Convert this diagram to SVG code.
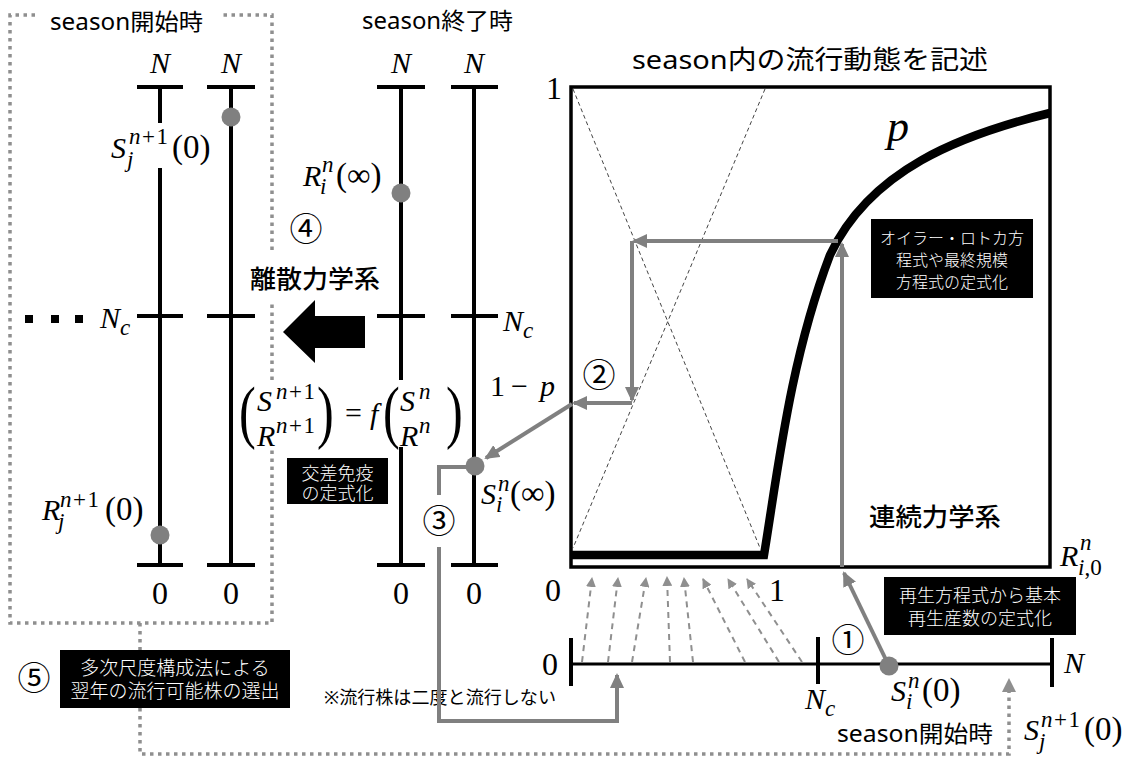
<svg xmlns="http://www.w3.org/2000/svg" width="1137" height="758" viewBox="0 0 1137 758">
<defs>
<style>
.jp{font-family:"Noto Sans","Noto Sans CJK JP",sans-serif;fill:#000}
.hb{font-weight:500}
.wt{font-family:"Noto Sans CJK JP",sans-serif;fill:#fff;text-anchor:middle;font-weight:300}
.cn{font-family:"Noto Sans CJK JP",sans-serif;font-size:33px;text-anchor:middle;fill:#000}
.m{font-family:"Liberation Serif",serif;font-size:30px;fill:#000}
.mc{text-anchor:middle}
.i{font-style:italic}
.s{font-size:23px}
.sp{font-size:23px;letter-spacing:1.5px}
.pz{font-size:33px}
.big{font-size:32px}
.ax{stroke:#000;stroke-width:4;fill:none}
.dot{fill:#808080}
.ga{stroke:#808080;stroke-width:4;fill:none;marker-end:url(#ah)}
.gl{stroke:#808080;stroke-width:4;fill:none}
.dt{stroke:#8f8f8f;stroke-width:3.5;stroke-dasharray:3.5 4.5;fill:none}
.dsh{stroke:#8f8f8f;stroke-width:2;stroke-dasharray:6 5;fill:none;marker-end:url(#ahs)}
.xd{stroke:#444;stroke-width:1;stroke-dasharray:4 3;fill:none}
.bb{fill:#000}
</style>
<marker id="ah" markerUnits="userSpaceOnUse" markerWidth="16" markerHeight="14" refX="13" refY="7" orient="auto"><path d="M0,0 L15,7 L0,14 z" fill="#808080"/></marker>
<marker id="ahs" markerUnits="userSpaceOnUse" markerWidth="11" markerHeight="10" refX="9" refY="5" orient="auto"><path d="M0,0 L10,5 L0,10 z" fill="#8f8f8f"/></marker>
<marker id="ahd" markerUnits="userSpaceOnUse" markerWidth="15" markerHeight="14" refX="1" refY="7" orient="auto"><path d="M0,0 L14,7 L0,14 z" fill="#8f8f8f"/></marker>
</defs>
<rect width="1137" height="758" fill="#fff"/>

<!-- Left panel: season start -->
<g id="left-box">
<path class="dt" d="M35,15 H10 V623 H272 V447 M272,380 V303 M272,250 V15 H220"/>
<text class="jp" x="50" y="30" font-size="23" textLength="153" lengthAdjust="spacingAndGlyphs">season開始時</text>
<rect x="25" y="315" width="8" height="8"/>
<rect x="51" y="315" width="8" height="8"/>
<rect x="75" y="315" width="8" height="8"/>
<text class="m"><tspan x="100" y="328" class="i">N</tspan><tspan x="120" y="335" class="i s">c</tspan></text>
</g>

<g id="left-col-S">
<text class="m mc i" x="160" y="73">N</text>
<path class="ax" d="M137,87 H183 M160,87 V123 M160,168 V565 M137,316 H183 M137,565 H183"/>
<text class="m"><tspan x="111" y="158" class="i">S</tspan><tspan x="129" y="144" class="sp"><tspan class="i">n</tspan>+1</tspan><tspan x="127" y="167" class="i s">j</tspan><tspan x="172" y="158" class="pz">(0)</tspan></text>
<text class="m"><tspan x="42" y="520" class="i">R</tspan><tspan x="60" y="507" class="sp"><tspan class="i">n</tspan>+1</tspan><tspan x="58" y="529" class="i s">j</tspan><tspan x="105" y="520" class="pz">(0)</tspan></text>
<circle class="dot" cx="160" cy="535" r="9.5"/>
<text class="m mc big" x="160" y="604">0</text>
</g>

<g id="left-col-R">
<text class="m mc i" x="231" y="73">N</text>
<path class="ax" d="M207,87 H255 M231,87 V565 M207,316 H255 M207,565 H255"/>
<circle class="dot" cx="231" cy="117" r="9.5"/>
<text class="m mc big" x="231" y="604">0</text>
</g>

<!-- Middle panel: season end -->
<g id="mid-title">
<text class="jp" x="362" y="29" font-size="23" textLength="151" lengthAdjust="spacingAndGlyphs">season終了時</text>
</g>

<g id="mid-col-R">
<text class="m mc i" x="401" y="73">N</text>
<path class="ax" d="M377,87 H425 M401,87 V380 M401,447 V565 M377,316 H425 M377,565 H425"/>
<text class="m"><tspan x="303" y="186" class="i">R</tspan><tspan x="322" y="172" class="i s">n</tspan><tspan x="320" y="194" class="i s">i</tspan><tspan x="336" y="186" class="pz">(∞)</tspan></text>
<circle class="dot" cx="401" cy="193" r="9.5"/>
<text class="m mc big" x="401" y="604">0</text>
</g>

<g id="mid-col-S">
<text class="m mc i" x="474" y="73">N</text>
<path class="ax" d="M451,87 H498 M474,87 V565 M451,316 H498 M451,565 H498"/>
<text class="m"><tspan x="503" y="331" class="i">N</tspan><tspan x="523" y="338" class="i s">c</tspan></text>
<circle class="dot" cx="475" cy="466" r="9.5"/>
<text class="m"><tspan x="481" y="504" class="i">S</tspan><tspan x="498" y="491" class="i s">n</tspan><tspan x="496" y="512" class="i s">i</tspan><tspan x="510" y="504" class="pz">(∞)</tspan></text>
<text class="m mc big" x="474" y="604">0</text>
</g>

<!-- Discrete dynamics -->
<g id="discrete">
<text class="cn" x="306" y="241">④</text>
<text class="jp hb" x="250" y="288" font-size="25" textLength="130" lengthAdjust="spacingAndGlyphs">離散力学系</text>
<polygon points="283,332 315,300 315,316 365,316 365,348 315,348 315,363" fill="#000"/>
<g class="m">
<text transform="translate(239,435) scale(0.72,1)" font-size="70">(</text>
<text><tspan x="257" y="411" class="i">S</tspan><tspan x="276" y="399" class="sp"><tspan class="i">n</tspan>+1</tspan><tspan x="257" y="446" class="i">R</tspan><tspan x="276" y="433" class="sp"><tspan class="i">n</tspan>+1</tspan></text>
<text transform="translate(317,435) scale(0.72,1)" font-size="70">)</text>
<text x="345" y="423">=</text>
<text x="370" y="424" class="i">f</text>
<text transform="translate(383,435) scale(0.72,1)" font-size="70">(</text>
<text><tspan x="400" y="411" class="i">S</tspan><tspan x="419" y="399" class="i s">n</tspan><tspan x="400" y="446" class="i">R</tspan><tspan x="419" y="433" class="i s">n</tspan></text>
<text transform="translate(446,435) scale(0.72,1)" font-size="70">)</text>
</g>
</g>

<g id="box-cross-immunity">
<rect class="bb" x="287" y="458" width="101" height="46"/>
<text class="wt" font-size="18"><tspan x="337.5" y="480">交差免疫</tspan><tspan x="337.5" y="500">の定式化</tspan></text>
</g>

<!-- Continuous dynamics plot -->
<g id="plot">
<text class="jp" x="632" y="69" font-size="26" textLength="356" lengthAdjust="spacingAndGlyphs">season内の流行動態を記述</text>
<line class="xd" x1="573" y1="89" x2="760" y2="548"/>
<line class="xd" x1="765" y1="89" x2="573" y2="548"/>
<rect x="571" y="87" width="479" height="480" fill="none" stroke="#000" stroke-width="3.5"/>
<path d="M571,555 H764 C778,470 790,360 830,255 C870,170 960,135 1050,113" fill="none" stroke="#000" stroke-width="8.5"/>
<text class="m i" x="887" y="141" style="font-size:44px">p</text>
<text class="m mc big" x="554" y="99">1</text>
<text class="m mc big" x="553" y="601">0</text>
<text class="m mc big" x="777" y="601">1</text>
<text class="m"><tspan x="490" y="396">1</tspan><tspan x="511" y="396">−</tspan><tspan x="540" y="396" class="i">p</tspan></text>
<text class="cn" x="599" y="387">②</text>
<text class="jp hb" x="869" y="526" font-size="25" textLength="132" lengthAdjust="spacingAndGlyphs">連続力学系</text>
<text class="m"><tspan x="1060" y="566" class="i">R</tspan><tspan x="1080" y="550" class="i s">n</tspan><tspan x="1078" y="575" class="s"><tspan class="i">i</tspan>,0</tspan></text>
</g>

<g id="box-euler-lotka">
<rect class="bb" x="871" y="219" width="162" height="79"/>
<text class="wt" font-size="16"><tspan x="952" y="244">オイラー・ロトカ方</tspan><tspan x="952" y="266">程式や最終規模</tspan><tspan x="952" y="288">方程式の定式化</tspan></text>
</g>

<!-- Bottom axis: season start -->
<g id="bottom-axis">
<line x1="571" y1="664" x2="1052" y2="664" stroke="#000" stroke-width="3"/>
<path class="ax" d="M571,638 V686 M818,637 V684 M1052,638 V687"/>
<text class="m mc big" x="550" y="675">0</text>
<text class="m"><tspan x="805" y="709" class="i">N</tspan><tspan x="825" y="716" class="i s">c</tspan></text>
<text class="m i" x="1064" y="673">N</text>
<circle class="dot" cx="889" cy="666" r="9.5"/>
<text class="m"><tspan x="891" y="701" class="i">S</tspan><tspan x="908" y="688" class="i s">n</tspan><tspan x="906" y="709" class="i s">i</tspan><tspan x="922" y="701" class="pz">(0)</tspan></text>
<text class="cn" x="848" y="652">①</text>
<text class="jp" x="837" y="742" font-size="23" textLength="156" lengthAdjust="spacingAndGlyphs">season開始時</text>
<text class="m"><tspan x="1024" y="740" class="i">S</tspan><tspan x="1041" y="727" class="sp"><tspan class="i">n</tspan>+1</tspan><tspan x="1039" y="749" class="i s">j</tspan><tspan x="1084" y="740" class="pz">(0)</tspan></text>
</g>

<g id="box-reproduction">
<rect class="bb" x="884" y="577" width="192" height="58"/>
<text class="wt" font-size="18"><tspan x="980" y="602">再生方程式から基本</tspan><tspan x="980" y="625">再生産数の定式化</tspan></text>
</g>

<g id="box-mds">
<rect class="bb" x="60" y="650" width="230" height="58"/>
<text class="wt" font-size="19"><tspan x="175" y="675">多次尺度構成法による</tspan><tspan x="175" y="698">翌年の流行可能株の選出</tspan></text>
<text class="cn" x="34" y="690">⑤</text>
</g>

<g id="note">
<text class="cn" x="439" y="533">③</text>
<text class="jp" x="324" y="704" font-size="18" textLength="232" lengthAdjust="spacingAndGlyphs">※流行株は二度と流行しない</text>
</g>

<!-- Connectors -->
<g id="connectors">
<path class="ga" d="M842,567 V244"/>
<path class="ga" d="M838,241 H634"/>
<path class="ga" d="M632,241 V400"/>
<path class="ga" d="M632,403 H574"/>
<path class="ga" d="M572,404 L486,458"/>
<path class="ga" d="M889,666 L844,573"/>
<path class="gl" d="M475,467 H439 V495"/>
<path class="ga" d="M439,547 V721 H617 V675"/>
<line class="dsh" x1="582" y1="662" x2="592" y2="578"/>
<line class="dsh" x1="608" y1="662" x2="618" y2="578"/>
<line class="dsh" x1="632" y1="662" x2="646" y2="578"/>
<line class="dsh" x1="670" y1="662" x2="667" y2="577"/>
<line class="dsh" x1="693" y1="662" x2="684" y2="578"/>
<line class="dsh" x1="745" y1="662" x2="703" y2="579"/>
<line class="dsh" x1="779" y1="662" x2="728" y2="579"/>
<line class="dsh" x1="802" y1="662" x2="747" y2="579"/>
<path class="dt" d="M140,623 V650"/>
<path class="dt" d="M140,708 V754 H1009 V691" marker-end="url(#ahd)"/>
</g>
</svg>
